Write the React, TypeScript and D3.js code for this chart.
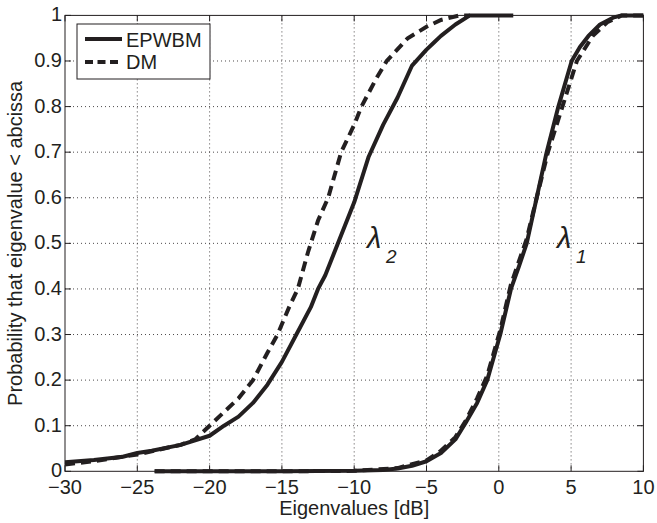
import React from "react";
import * as d3 from "d3";

const xTicks = [-30, -25, -20, -15, -10, -5, 0, 5, 10];
const yTicks = [0, 0.1, 0.2, 0.3, 0.4, 0.5, 0.6, 0.7, 0.8, 0.9, 1];

const l2EpwbmX = [-30, -28, -26, -25, -24, -22, -20, -19, -18, -17, -16, -15, -14, -13, -12.5, -12, -11, -10, -9, -8, -7, -6, -5, -4.5, -4, -3, -2, 1];
const l2EpwbmP = [0.02, 0.025, 0.032, 0.04, 0.045, 0.058, 0.078, 0.1, 0.12, 0.15, 0.19, 0.24, 0.3, 0.36, 0.4, 0.43, 0.51, 0.59, 0.69, 0.76, 0.82, 0.89, 0.925, 0.94, 0.955, 0.98, 1.0, 1.0];

const l2DmX = [-30, -28, -25, -22, -21, -20, -19, -18, -17, -16, -15.3, -14.5, -13.9, -13.2, -12.5, -11.8, -10.9, -10, -9.5, -8.5, -7.75, -6.3, -5, -4, -2.7, -2];
const l2DmP = [0.015, 0.022, 0.037, 0.058, 0.07, 0.1, 0.13, 0.16, 0.2, 0.26, 0.3, 0.36, 0.4, 0.48, 0.55, 0.6, 0.7, 0.76, 0.8, 0.86, 0.9, 0.95, 0.975, 0.99, 1.0, 1.0];

const l1EpwbmX = [-23.8, -15, -10, -8, -7, -6, -5, -4, -3, -2.3, -1.5, -0.8, 0.1, 0.84, 1.4, 1.93, 2.62, 3.31, 4.12, 5.04, 5.6, 6.2, 7, 7.9, 8.5, 10];
const l1EpwbmP = [0, 0, 0.001, 0.003, 0.006, 0.012, 0.022, 0.04, 0.07, 0.106, 0.15, 0.2, 0.3, 0.4, 0.45, 0.5, 0.6, 0.7, 0.8, 0.9, 0.93, 0.955, 0.98, 0.995, 1.0, 1.0];

const l1DmX = [-23.8, -15, -10, -7, -5, -4, -3, -2.3, -1.5, -0.8, 0.1, 0.84, 1.93, 2.62, 3.4, 4.4, 5.4, 6.5, 7.5, 8.5, 10];
const l1DmP = [0, 0, 0.001, 0.007, 0.024, 0.045, 0.075, 0.11, 0.16, 0.21, 0.31, 0.41, 0.51, 0.6, 0.7, 0.8, 0.9, 0.955, 0.985, 1.0, 1.0];

const legendLabels = ["EPWBM", "DM"];

const W = 657, H = 523;
const L = 65, R = 643.4, T = 15.4, B = 471.3;
const ink = "#231f20";
const font = "'Liberation Sans', Arial, Helvetica, sans-serif";

export default function App() {
  const x = d3.scaleLinear().domain([-30, 10]).range([L, R]);
  const y = d3.scaleLinear().domain([0, 1]).range([B, T]);
  const line = d3.line<[number, number]>().x(d => x(d[0])).y(d => y(d[1]));
  const zip = (xs: number[], ps: number[]) => xs.map((v, i) => [v, ps[i]] as [number, number]);
  const solids = [zip(l2EpwbmX, l2EpwbmP), zip(l1EpwbmX, l1EpwbmP)];
  const dashes = [zip(l2DmX, l2DmP), zip(l1DmX, l1DmP)];
  const tl = 6;
  return (
    <svg width={W} height={H} style={{ position: "absolute", left: 0, top: 0, background: "#fff" }} fontFamily={font}>
      <rect x={0} y={0} width={W} height={H} fill="#fff" />
      {xTicks.slice(1, -1).map(t => (
        <line key={"gx" + t} x1={x(t)} x2={x(t)} y1={T} y2={B} stroke={ink} strokeWidth={1} strokeDasharray="1,3" opacity={0.8} />
      ))}
      {yTicks.slice(1, -1).map(t => (
        <line key={"gy" + t} x1={L} x2={R} y1={y(t)} y2={y(t)} stroke={ink} strokeWidth={1} strokeDasharray="1,3" opacity={0.8} />
      ))}
      {xTicks.map(t => (
        <g key={"tx" + t}>
          <line x1={x(t)} x2={x(t)} y1={B} y2={B - tl} stroke={ink} strokeWidth={1} />
          <line x1={x(t)} x2={x(t)} y1={T} y2={T + tl} stroke={ink} strokeWidth={1} />
          <text x={x(t)} y={494} fontSize={20} textAnchor="middle" fill={ink}>{t < 0 ? "\u2212" + Math.abs(t) : String(t)}</text>
        </g>
      ))}
      {yTicks.map(t => (
        <g key={"ty" + t}>
          <line x1={L} x2={L + tl} y1={y(t)} y2={y(t)} stroke={ink} strokeWidth={1} />
          <line x1={R} x2={R - tl} y1={y(t)} y2={y(t)} stroke={ink} strokeWidth={1} />
          <text x={62} y={y(t) + 6} fontSize={20} textAnchor="end" fill={ink}>{String(t)}</text>
        </g>
      ))}
      {solids.map((d, i) => (
        <path key={"s" + i} d={line(d) || ""} fill="none" stroke={ink} strokeWidth={4} strokeLinejoin="round" />
      ))}
      {dashes.map((d, i) => (
        <path key={"d" + i} d={line(d) || ""} fill="none" stroke={ink} strokeWidth={4} strokeDasharray="10,6" />
      ))}
      <rect x={L} y={T} width={R - L} height={B - T} fill="none" stroke={ink} strokeWidth={1} />
      <g>
        <rect x={77} y={24} width={133} height={55} fill="#fff" stroke={ink} strokeWidth={1} />
        <line x1={85} x2={122} y1={39} y2={39} stroke={ink} strokeWidth={4} />
        <line x1={85} x2={122} y1={62} y2={62} stroke={ink} strokeWidth={4} strokeDasharray="8,4.5" />
        <text x={126} y={47} fontSize={20} fill={ink}>{legendLabels[0]}</text>
        <text x={126} y={69} fontSize={20} fill={ink}>{legendLabels[1]}</text>
      </g>
      <text x={367} y={248} fontSize={29} fontStyle="italic" fill={ink}>λ</text>
      <text x={386} y={263} fontSize={19} fontStyle="italic" fill={ink}>2</text>
      <text x={557} y={248} fontSize={29} fontStyle="italic" fill={ink}>λ</text>
      <text x={576} y={263} fontSize={19} fontStyle="italic" fill={ink}>1</text>
      <text x={(L + R) / 2} y={515} fontSize={20} textAnchor="middle" fill={ink}>Eigenvalues [dB]</text>
      <text transform={`translate(22,${(T + B) / 2}) rotate(-90)`} fontSize={20} textAnchor="middle" fill={ink}>Probability that eigenvalue &lt; abcissa</text>
    </svg>
  );
}
